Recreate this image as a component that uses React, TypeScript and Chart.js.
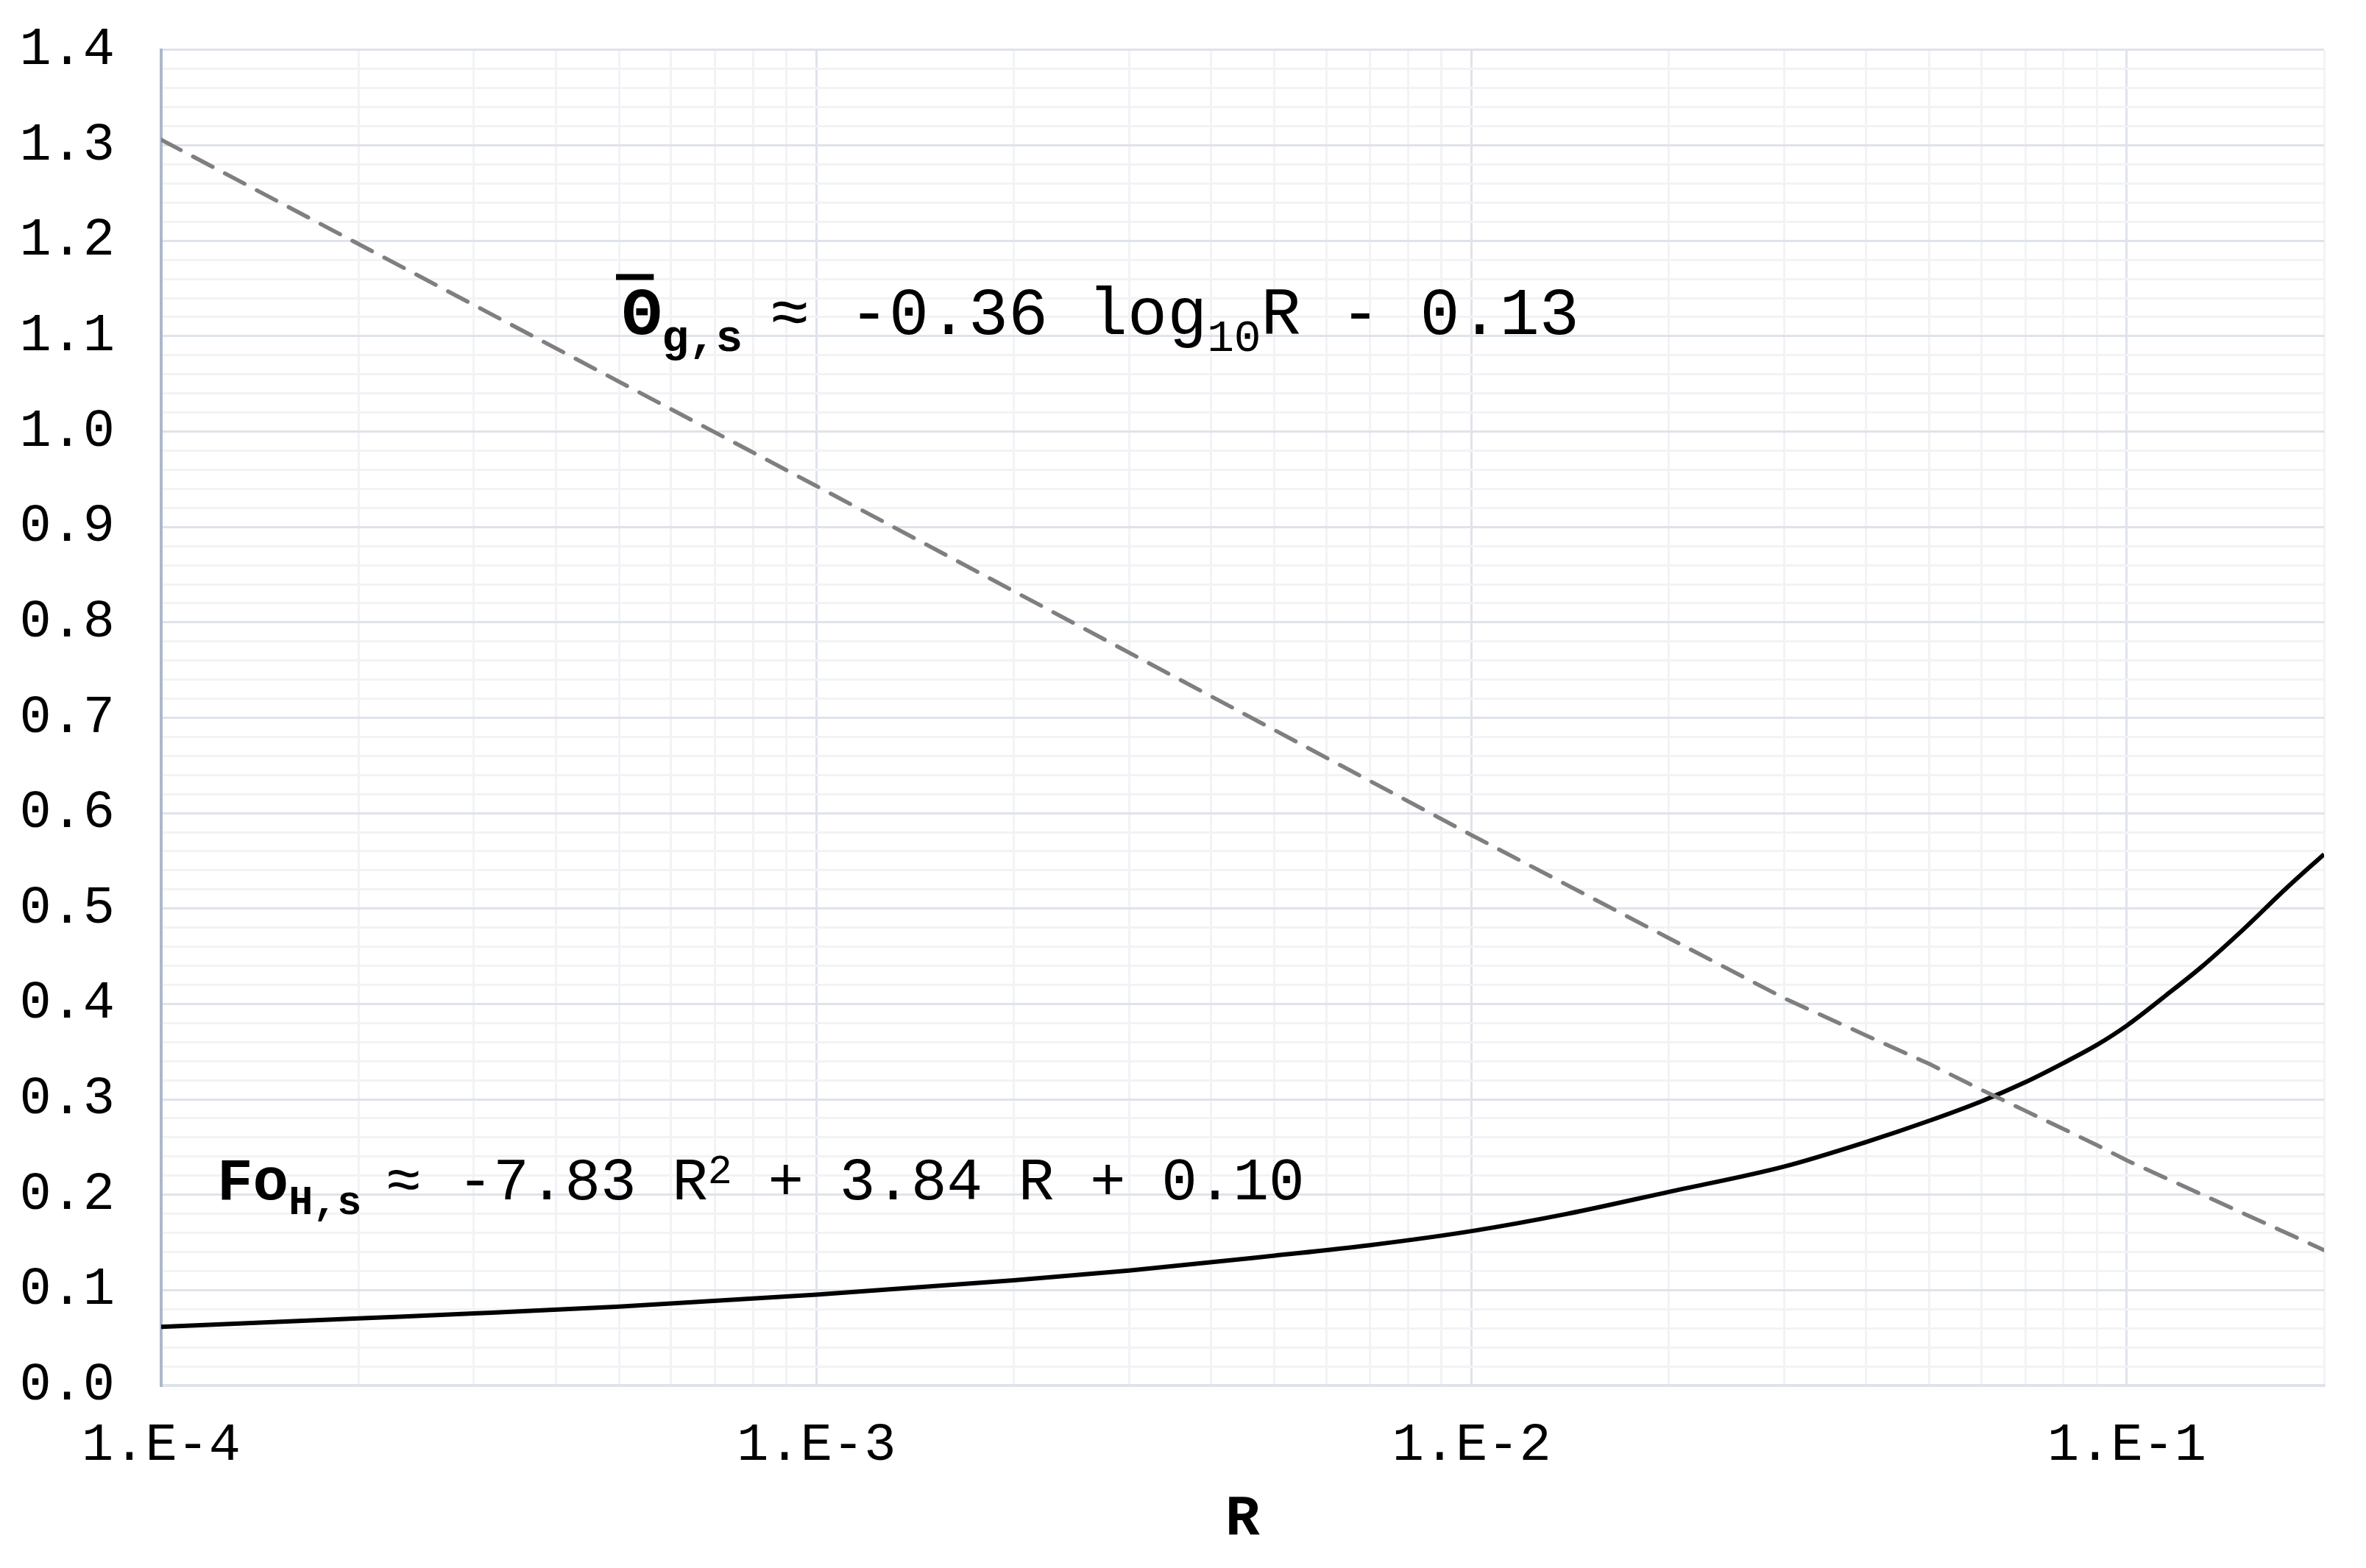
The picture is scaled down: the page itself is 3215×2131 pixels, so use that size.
import React, { useEffect, useRef } from 'react';
import { Chart, registerables } from 'chart.js';

Chart.register(...registerables);

// ---------- data ----------
// Fo_H,s (solid black curve)
const R_FO = [1e-4, 2e-4, 3e-4, 5e-4, 1e-3, 2e-3, 3e-3, 5e-3, 7e-3, 1e-2, 1.4e-2, 2e-2, 3e-2, 4e-2, 5e-2, 6e-2, 7e-2, 8e-2, 9e-2, 0.1, 0.115, 0.13, 0.15, 0.175, 0.2];
const FO_VALUES = [0.0616, 0.0704, 0.0755, 0.0827, 0.0952, 0.1103, 0.1205, 0.1362, 0.1472, 0.1619, 0.18, 0.203, 0.2296, 0.2553, 0.2777, 0.298, 0.318, 0.338, 0.357, 0.3773, 0.4095, 0.4388, 0.477, 0.521, 0.557];

// Theta_g,s (dashed grey line)
const R_THETA = [1e-4, 1e-3, 1e-2, 2e-2, 3e-2, 4e-2, 5e-2, 6e-2, 7e-2, 8e-2, 9e-2, 0.1, 0.15, 0.2];
const THETA_VALUES = [1.306, 0.943, 0.577, 0.469, 0.406, 0.367, 0.337, 0.31, 0.288, 0.269, 0.252, 0.236, 0.181, 0.142];

// axes
const X_MIN = 1e-4;
const X_MAX = 0.2;
const X_MAJOR = [1e-4, 1e-3, 1e-2, 1e-1];
const X_LABELS = ['1.E-4', '1.E-3', '1.E-2', '1.E-1'];
const X_MINOR_MULT = [2, 3, 4, 5, 6, 7, 8, 9];
const Y_MIN = 0;
const Y_MAX = 1.4;
const Y_LABELS = ['0.0', '0.1', '0.2', '0.3', '0.4', '0.5', '0.6', '0.7', '0.8', '0.9', '1.0', '1.1', '1.2', '1.3', '1.4'];
const Y_MINOR_PER_MAJOR = 5;
const X_TITLE = 'R';

// equation texts
const EQ_THETA_TEXT = ['Θ', 'g,s ', '≈ -0.36 log', '10', 'R - 0.13'];
const EQ_THETA_AT = { r: 5.05e-4, v: 1.102 };
const EQ_FO_TEXT = ['Fo', 'H,s ', '≈ -7.83 R', '2', ' + 3.84 R + 0.10'];
const EQ_FO_AT = { r: 1.217e-4, v: 0.195 };

// ---------- styles ----------
const FONT = '"Liberation Mono", "Courier New", monospace';
const MAJOR_GRID = '#dfe3ea';
const MINOR_GRID = '#f2f3f6';

type Run = { text: string; bold?: boolean; kind?: 'sub' | 'sup'; overbar?: boolean };

function drawEquation(chart: any, at: { r: number; v: number }, size: number, runs: Run[]) {
  const { ctx, scales } = chart;
  let x = scales.x.getPixelForValue(at.r);
  const base = scales.y.getPixelForValue(at.v);
  ctx.save();
  ctx.fillStyle = '#000';
  ctx.textAlign = 'left';
  ctx.textBaseline = 'alphabetic';
  for (const run of runs) {
    const small = run.kind === 'sub' || run.kind === 'sup';
    const s = small ? size * 0.68 : size;
    ctx.font = `${run.bold ? 'bold ' : ''}${s}px ${FONT}`;
    let y = base;
    if (run.kind === 'sub') y = base + size * 0.25;
    if (run.kind === 'sup') y = base - size * 0.28;
    ctx.fillText(run.text, x, y);
    if (run.overbar) {
      ctx.fillRect(x - size * 0.09, base - size * 0.91, size * 0.57, size * 0.09);
    }
    x += ctx.measureText(run.text).width;
  }
  ctx.restore();
}

const equationPlugin = {
  id: 'equations',
  afterDraw(chart: any) {
    drawEquation(chart, EQ_THETA_AT, 90, [
      { text: EQ_THETA_TEXT[0], bold: true, overbar: true },
      { text: EQ_THETA_TEXT[1], bold: true, kind: 'sub' },
      { text: EQ_THETA_TEXT[2] },
      { text: EQ_THETA_TEXT[3], kind: 'sub' },
      { text: EQ_THETA_TEXT[4] },
    ]);
    drawEquation(chart, EQ_FO_AT, 81, [
      { text: EQ_FO_TEXT[0], bold: true },
      { text: EQ_FO_TEXT[1], bold: true, kind: 'sub' },
      { text: EQ_FO_TEXT[2] },
      { text: EQ_FO_TEXT[3], kind: 'sup' },
      { text: EQ_FO_TEXT[4] },
    ]);
  },
};

function buildXTicks() {
  const ticks: { value: number; major: boolean }[] = [];
  for (const d of X_MAJOR) {
    if (d <= X_MAX * (1 + 1e-9)) ticks.push({ value: d, major: true });
    for (const m of X_MINOR_MULT) {
      const v = m * d;
      if (v <= X_MAX * (1 + 1e-9)) ticks.push({ value: v, major: false });
    }
  }
  return ticks.sort((a, b) => a.value - b.value);
}

function buildYTicks() {
  const ticks: { value: number; major: boolean }[] = [];
  const n = (Y_LABELS.length - 1) * Y_MINOR_PER_MAJOR;
  const step = (Y_MAX - Y_MIN) / n;
  for (let i = 0; i <= n; i++) {
    ticks.push({ value: Y_MIN + i * step, major: i % Y_MINOR_PER_MAJOR === 0 });
  }
  return ticks;
}

export default function App() {
  const ref = useRef<HTMLCanvasElement | null>(null);

  useEffect(() => {
    if (!ref.current) return;
    const chart = new Chart(ref.current, {
      type: 'line',
      data: {
        datasets: [
          {
            label: 'Theta',
            data: R_THETA.map((r, i) => ({ x: r, y: THETA_VALUES[i] })),
            borderColor: '#7f7f7f',
            borderWidth: 5.5,
            borderDash: [30, 19],
            borderCapStyle: 'round',
            pointRadius: 0,
            tension: 0,
            order: 0,
          },
          {
            label: 'Fo',
            data: R_FO.map((r, i) => ({ x: r, y: FO_VALUES[i] })),
            borderColor: '#000000',
            borderWidth: 6,
            pointRadius: 0,
            cubicInterpolationMode: 'monotone',
            order: 1,
          },
        ],
      } as any,
      options: {
        responsive: false,
        animation: false,
        devicePixelRatio: 1,
        events: [],
        layout: { padding: { top: 60, right: 49, left: 0, bottom: 0 } },
        plugins: { legend: { display: false }, tooltip: { enabled: false } },
        scales: {
          x: {
            type: 'logarithmic',
            min: X_MIN,
            max: X_MAX,
            afterBuildTicks: (s: any) => {
              s.ticks = buildXTicks();
            },
            afterFit: (s: any) => {
              s.height = 240;
            },
            ticks: {
              autoSkip: false,
              maxRotation: 0,
              minRotation: 0,
              padding: 39,
              color: '#000',
              font: { family: FONT, size: 72 },
              callback: (value: any) => {
                const v = Number(value);
                const i = X_MAJOR.findIndex((m) => Math.abs(v / m - 1) < 1e-6);
                return i >= 0 ? X_LABELS[i] : '';
              },
            },
            grid: {
              drawTicks: false,
              lineWidth: 3,
              color: (c: any) => (c.tick && c.tick.major ? MAJOR_GRID : MINOR_GRID),
            },
            border: { display: true, color: MAJOR_GRID, width: 4 },
            title: {
              display: true,
              text: X_TITLE,
              color: '#000',
              font: { family: FONT, size: 78, weight: 'bold' },
              padding: { top: 0, bottom: 10 },
            },
          },
          y: {
            type: 'linear',
            min: Y_MIN,
            max: Y_MAX,
            afterBuildTicks: (s: any) => {
              s.ticks = buildYTicks();
            },
            afterFit: (s: any) => {
              s.width = 211;
              s.paddingTop = 0;
              s.paddingBottom = 0;
            },
            ticks: {
              autoSkip: false,
              padding: 63,
              color: '#000',
              font: { family: FONT, size: 72 },
              callback: (value: any) => {
                const t = Math.round(((Number(value) - Y_MIN) / (Y_MAX - Y_MIN)) * (Y_LABELS.length - 1) * Y_MINOR_PER_MAJOR);
                return t % Y_MINOR_PER_MAJOR === 0 ? Y_LABELS[t / Y_MINOR_PER_MAJOR] : '';
              },
            },
            grid: {
              drawTicks: false,
              lineWidth: 3,
              color: (c: any) => (c.tick && c.tick.major ? MAJOR_GRID : MINOR_GRID),
            },
            border: { display: true, color: '#adb8c9', width: 4 },
          },
        },
      } as any,
      plugins: [equationPlugin],
    });
    return () => chart.destroy();
  }, []);

  return (
    <canvas ref={ref} width={3199} height={2115} style={{ display: 'block', width: '3199px', height: '2115px' }} />
  );
}
